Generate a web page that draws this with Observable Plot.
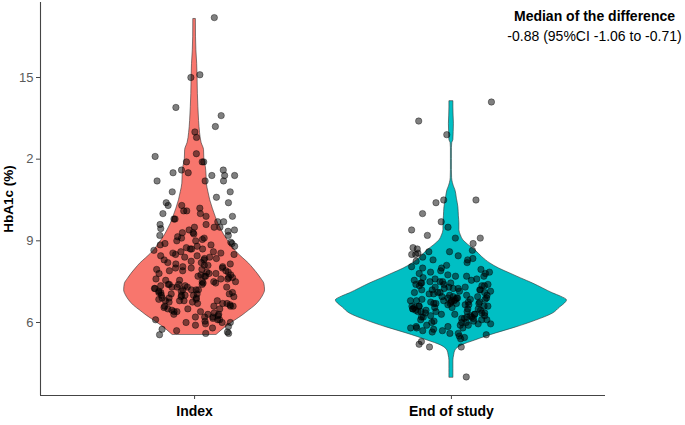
<!DOCTYPE html>
<html><head><meta charset="utf-8">
<script src="https://cdn.jsdelivr.net/npm/d3@7"></script>
<script src="https://cdn.jsdelivr.net/npm/@observablehq/plot@0.6"></script>
<style>body{margin:0;background:#fff}</style>
</head><body><div id="chart"></div>
<script>
// ---- data ----
const categories = ["Index", "End of study"];
const fills = ["#F8766D", "#00BFC4"];
const yTicks = [6, 9, 12, 15];
const yTickLabels = ["6", "9", "2", "15"];
const yLabel = "HbA1c (%)";
const noteTitle = "Median of the difference";
const noteText = "-0.88 (95%CI -1.06 to -0.71)";

const indexValues = [
  17.2, 15.1, 15.0, 13.9, 13.6, 13.2, 13.0, 12.8, 12.2, 12.1, 11.9, 11.9, 11.9, 11.6, 11.6, 11.5, 11.5, 11.4, 11.4, 11.4, 11.2, 11.2, 11.2, 10.8, 10.8, 10.6,
  10.4, 10.4, 10.3, 10.3, 10.2, 10.1, 10.1, 10.0, 10.0,
  9.9, 9.9, 9.8, 9.8, 9.7, 9.7, 9.6, 9.6, 9.5, 9.5, 9.5,
  9.45, 9.4, 9.4, 9.35, 9.3, 9.3, 9.25, 9.2, 9.2, 9.15, 9.1, 9.1, 9.05, 9.0, 9.0,
  8.95, 8.9, 8.9, 8.85, 8.85, 8.8, 8.8, 8.75, 8.7, 8.7, 8.7, 8.65, 8.6, 8.6, 8.55, 8.55, 8.5, 8.5,
  8.45, 8.45, 8.4, 8.4, 8.35, 8.35, 8.3, 8.3, 8.25, 8.2, 8.2, 8.15, 8.15, 8.1, 8.1, 8.05, 8.05, 8.0, 8.0, 8.0,
  7.95, 7.95, 7.9, 7.9, 7.9, 7.85, 7.85, 7.8, 7.8, 7.8, 7.75, 7.75, 7.7, 7.7, 7.7, 7.65, 7.65, 7.6, 7.6, 7.6, 7.55, 7.55, 7.5, 7.5, 7.5,
  7.45, 7.45, 7.4, 7.4, 7.4, 7.35, 7.35, 7.3, 7.3, 7.3, 7.25, 7.25, 7.2, 7.2, 7.2, 7.15, 7.15, 7.1, 7.1, 7.1, 7.05, 7.05, 7.0, 7.0, 7.0, 7.0, 7.05, 7.2, 7.3, 7.4,
  6.95, 6.95, 6.9, 6.9, 6.85, 6.85, 6.8, 6.8, 6.8, 6.75, 6.7, 6.7, 6.65, 6.6, 6.6, 6.6, 6.55, 6.5, 6.5, 6.5, 6.9, 6.7, 6.6, 6.8, 6.75,
  6.45, 6.4, 6.4, 6.35, 6.3, 6.3, 6.25, 6.2, 6.2, 6.15, 6.1, 6.1, 6.05, 6.0, 6.0, 6.3, 6.2, 6.1, 6.4, 6.0,
  5.95, 5.9, 5.85, 5.8, 5.75, 5.7, 5.65, 5.6, 5.6, 5.55
];

const endValues = [
  14.1, 13.4, 12.9, 10.5, 10.5, 10.4, 10.0, 9.7, 9.5, 9.4, 9.2, 9.1, 9.1,
  8.9, 8.75, 8.7, 8.65, 8.6, 8.6, 8.55, 8.5, 8.5,
  8.45, 8.4, 8.35, 8.3, 8.3, 8.25, 8.2, 8.1, 8.05, 8.0, 8.0,
  7.95, 7.9, 7.85, 7.8, 7.8, 7.75, 7.7, 7.7, 7.65, 7.6, 7.6, 7.55, 7.5, 7.5, 7.5, 7.55, 7.7, 7.85,
  7.45, 7.45, 7.4, 7.4, 7.4, 7.35, 7.35, 7.3, 7.3, 7.3, 7.25, 7.25, 7.2, 7.2, 7.2, 7.15, 7.15, 7.1, 7.1, 7.1, 7.05, 7.05, 7.0, 7.0, 7.0, 7.35, 7.2, 7.1, 7.25, 7.45,
  6.95, 6.95, 6.9, 6.9, 6.9, 6.85, 6.85, 6.8, 6.8, 6.8, 6.8, 6.75, 6.75, 6.7, 6.7, 6.7, 6.65, 6.65, 6.6, 6.6, 6.6, 6.55, 6.55, 6.5, 6.5, 6.5, 6.85, 6.75, 6.7, 6.6, 6.95, 6.55, 6.9, 6.65, 6.8, 6.7, 6.6, 6.5, 6.75, 6.85,
  6.45, 6.45, 6.4, 6.4, 6.4, 6.35, 6.35, 6.3, 6.3, 6.3, 6.25, 6.25, 6.2, 6.2, 6.2, 6.15, 6.15, 6.1, 6.1, 6.05, 6.05, 6.0, 6.0, 6.0, 6.4, 6.3, 6.2, 6.1, 6.35, 6.25, 6.45, 6.15,
  5.95, 5.95, 5.9, 5.9, 5.85, 5.85, 5.8, 5.8, 5.75, 5.7, 5.7, 5.65, 5.6, 5.6, 5.55, 5.5, 5.9, 5.8,
  5.45, 5.4, 5.3, 5.2, 5.1, 5.1,
  4.0
];

// violin outlines: HbA1c level and relative density
const indexProfileV = [5.55, 5.71, 5.9, 6.07, 6.25, 6.44, 6.62, 6.81, 7.0, 7.18, 7.42, 7.6, 7.79, 7.98, 8.16, 8.35, 8.52, 8.7, 8.9, 9.14, 9.38, 9.62, 9.87, 10.18, 10.49, 10.8, 11.1, 11.4, 11.71, 12.0, 12.33, 12.6, 12.96, 13.4, 13.91, 14.4, 15.0, 15.5, 16.0, 16.5, 17.15];
const indexProfileD = [22.3, 27.3, 34, 40.7, 48, 54.7, 61, 65.7, 69, 70.7, 70, 67, 63.3, 59, 54.7, 49, 44, 39.5, 35.7, 31, 27.3, 24, 21.3, 18.3, 15.7, 13.8, 12.3, 12, 11.3, 9.8, 9.5, 7, 5.5, 4.5, 3.8, 3.3, 3, 2.6, 1.8, 1.4, 1.3];
const endProfileV = [3.98, 4.3, 4.6, 4.8, 4.97, 5.15, 5.34, 5.47, 5.6, 5.82, 6.07, 6.33, 6.55, 6.7, 6.81, 6.95, 7.07, 7.25, 7.43, 7.62, 7.8, 7.98, 8.17, 8.4, 8.65, 8.85, 9.02, 9.2, 9.39, 9.64, 9.9, 10.23, 10.55, 10.86, 11.0, 11.12, 11.3, 11.6, 12.0, 12.4, 12.59, 12.7, 13.0, 13.3, 13.6, 13.9, 14.13];
const endProfileD = [2, 2, 2, 2.8, 4, 10, 24, 34, 45, 65, 85, 102, 109, 114, 116, 110, 102, 92, 82, 70, 59, 48, 39, 31, 24, 17, 12, 9.5, 8, 8, 7.5, 7, 5.5, 4, 2.5, 1.5, 0.7, 0.5, 0.5, 0.5, 0.8, 2, 2.3, 2.5, 2.2, 2, 2];

// ---- build tables ----
const xDomain = [0.4, 2.6];
const yDomain = [3.318, 17.755];
const maxD = d3.max([...indexProfileD, ...endProfileD]);
const halfWidth = 0.45; // ggplot default violin width 0.9

const profiles = [];
[[indexProfileV, indexProfileD], [endProfileV, endProfileD]].forEach(([vs, ds], g) => {
  vs.forEach((v, i) => profiles.push({cat: categories[g], pos: g + 1, v, d: ds[i]}));
});

// deterministic horizontal jitter (position only)
const hash = k => { const s = Math.sin(k * 12.9898 + 78.233) * 43758.5453; return s - Math.floor(s); };
const points = [];
[indexValues, endValues].forEach((vals, g) => {
  vals.forEach((v, i) => {
    const j = (hash(i + 1 + g * 1000) - 0.5) * 0.32;
    points.push({pos: g + 1, v, j});
  });
});

const chart = Plot.plot({
  width: 685,
  height: 425,
  marginLeft: 40,
  marginRight: 80,
  marginTop: 2,
  marginBottom: 30,
  style: {fontFamily: "'Liberation Sans', Arial, sans-serif", background: "white"},
  x: {type: "linear", domain: xDomain, axis: null},
  y: {domain: yDomain, axis: null},
  color: {domain: categories, range: fills},
  marks: [
    Plot.areaX(profiles, {
      y: "v",
      x1: d => d.pos - d.d / maxD * halfWidth,
      x2: d => d.pos + d.d / maxD * halfWidth,
      fill: "cat",
      z: "cat",
      stroke: "#333",
      strokeWidth: 0.6,
      curve: "monotone-y"
    }),
    Plot.dot(points, {
      x: d => d.pos + d.j,
      y: "v",
      r: 3.2,
      fill: "black",
      fillOpacity: 0.5,
      stroke: "black",
      strokeOpacity: 0.55,
      strokeWidth: 0.7
    }),
    Plot.ruleX([xDomain[0]], {stroke: "#444", strokeWidth: 1.1}),
    Plot.ruleY([yDomain[0]], {stroke: "#444", strokeWidth: 1.1}),
    Plot.axisY({
      ticks: yTicks,
      tickFormat: d => yTickLabels[yTicks.indexOf(d)],
      tickSize: 4,
      tickPadding: 3,
      fontSize: 13,
      stroke: "#444",
      fill: "#5a5a5a",
      label: null
    }),
    Plot.axisX({
      ticks: [1, 2],
      tickFormat: d => categories[d - 1],
      tickSize: 4,
      tickPadding: 7,
      fontSize: 14,
      fontWeight: "bold",
      stroke: "#444",
      fill: "black",
      label: null
    }),
    Plot.text([yLabel], {
      text: d => d,
      frameAnchor: "left",
      rotate: -90,
      dx: -32,
      fontSize: 13.5,
      fontWeight: "bold",
      fill: "black",
      textAnchor: "middle",
      lineAnchor: "middle"
    }),
    Plot.text([noteTitle], {
      text: d => d,
      frameAnchor: "top-right",
      dx: -11,
      dy: 14,
      textAnchor: "middle",
      lineAnchor: "middle",
      fontSize: 14,
      fontWeight: "bold",
      fill: "black"
    }),
    Plot.text([noteText], {
      text: d => d,
      frameAnchor: "top-right",
      dx: -11,
      dy: 34,
      textAnchor: "middle",
      lineAnchor: "middle",
      fontSize: 14,
      fill: "black"
    })
  ]
});
document.getElementById("chart").appendChild(chart);
</script>
</body></html>
